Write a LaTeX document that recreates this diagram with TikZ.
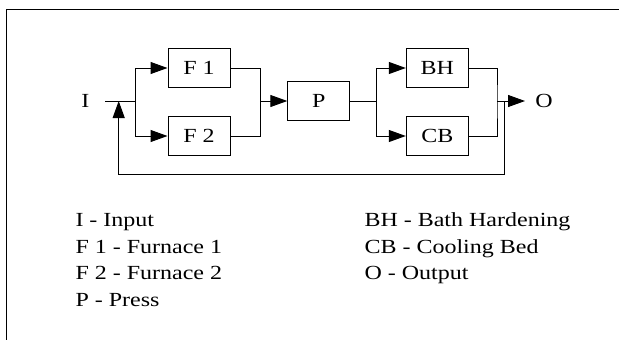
\documentclass[tikz,border=0pt]{standalone}
\usepackage{fontspec}
\setmainfont{Liberation Serif}[FakeStretch=1.2]
\usetikzlibrary{arrows.meta}

\begin{document}
\begin{tikzpicture}[x=1pt,y=-1pt,line width=1pt,
  font=\fontsize{20}{24}\selectfont,
  bloc/.style={draw,minimum width=62pt,minimum height=38.6pt,inner sep=0pt},
  fleche/.style={-{Triangle[length=17pt,width=12pt]}},
  legende/.style={anchor=base west,inner sep=0pt}]

\useasboundingbox (0,0) rectangle (619,340);

% Cadre
\draw (619,9.3) -- (6,9.3) -- (6,340);

% Blocs
\node[bloc] (F1) at (199,68) {F 1};
\node[bloc] (F2) at (199,136) {F 2};
\node[bloc] (P) at (318.8,101) {P};
\node[bloc] (BH) at (437.3,68) {BH};
\node[bloc] (CB) at (437.3,136) {CB};

\node (I) at (85.3,101) {I};
\node (O) at (544,101) {O};

\coordinate (entree) at (105,101);
\coordinate (nd1) at (135.7,101);
\coordinate (nd2) at (260.7,101);
\coordinate (nd3) at (376.7,101);
\coordinate (nd4) at (497,101);
\coordinate (retour) at (504.5,101);
\coordinate (sortie) at (525,101);
\coordinate (bouclage) at (118.7,101);

% Fours en parallele
\draw (entree) -- (nd1);
\draw[fleche] (nd1) |- (F1.west);
\draw[fleche] (nd1) |- (F2.west);
\draw (F1.east) -| (nd2) |- (F2.east);
\draw[fleche] (nd2) -- (P.west);

% Trempe / refroidissement
\draw (P.east) -- (nd3);
\draw[fleche] (nd3) |- (BH.west);
\draw[fleche] (nd3) |- (CB.west);
\draw (BH.east) -| (nd4) |- (CB.east);
\draw[fleche] (nd4) -- (sortie);

% Retour
\draw[fleche] (retour) -- ++(0,73.7) -| (bouclage);

% Legende
\foreach \t [count=\i] in {
I - Input,F 1 - Furnace 1,
F 2 - Furnace 2,P - Press
}
{
\node[legende] (legA\i) at (75,{226.7+26.5*(\i-1)}) {\t};
}

\foreach \t [count=\i] in {
BH - Bath Hardening,CB - Cooling Bed,
O - Output
}
{
\node[legende] (legB\i) at (364,{226.7+26.5*(\i-1)}) {\t};
}

\end{tikzpicture}
\end{document}
